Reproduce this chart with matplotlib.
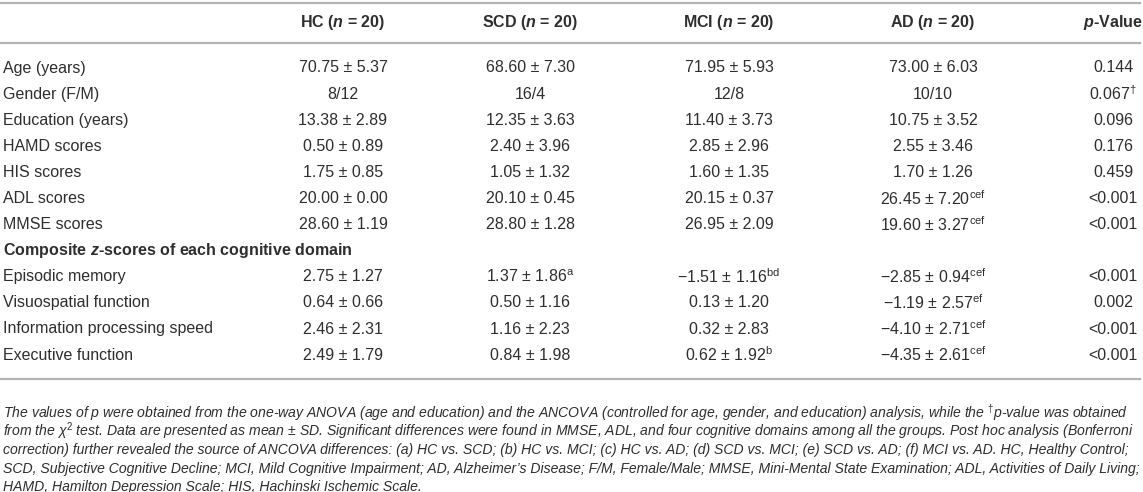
import matplotlib
matplotlib.use("Agg")
import matplotlib.pyplot as plt
from matplotlib.lines import Line2D

# table contents
groups = ["HC", "SCD", "MCI", "AD"]
group_n = [20, 20, 20, 20]

rows = ["Age (years)", "Gender (F/M)", "Education (years)", "HAMD scores",
        "HIS scores", "ADL scores", "MMSE scores"]
domain_title = "Composite $\\mathbfit{z}$-scores of each cognitive domain"
domains = ["Episodic memory", "Visuospatial function",
           "Information processing speed", "Executive function"]

hc = ["70.75 ± 5.37", "8/12", "13.38 ± 2.89", "0.50 ± 0.89", "1.75 ± 0.85",
      "20.00 ± 0.00", "28.60 ± 1.19",
      "2.75 ± 1.27", "0.64 ± 0.66", "2.46 ± 2.31", "2.49 ± 1.79"]
scd = ["68.60 ± 7.30", "16/4", "12.35 ± 3.63", "2.40 ± 3.96", "1.05 ± 1.32",
       "20.10 ± 0.45", "28.80 ± 1.28",
       "1.37 ± 1.86", "0.50 ± 1.16", "1.16 ± 2.23", "0.84 ± 1.98"]
mci = ["71.95 ± 5.93", "12/8", "11.40 ± 3.73", "2.85 ± 2.96", "1.60 ± 1.35",
       "20.15 ± 0.37", "26.95 ± 2.09",
       "−1.51 ± 1.16", "0.13 ± 1.20", "0.32 ± 2.83", "0.62 ± 1.92"]
ad = ["73.00 ± 6.03", "10/10", "10.75 ± 3.52", "2.55 ± 3.46", "1.70 ± 1.26",
      "26.45 ± 7.20", "19.60 ± 3.27",
      "−2.85 ± 0.94", "−1.19 ± 2.57", "−4.10 ± 2.71", "−4.35 ± 2.61"]
pvals = ["0.144", "0.067", "0.096", "0.176", "0.459", "<0.001", "<0.001",
         "<0.001", "0.002", "<0.001", "<0.001"]

# post hoc superscripts
sup_scd = ["", "", "", "", "", "", "", "a", "", "", ""]
sup_mci = ["", "", "", "", "", "", "", "bd", "", "", "b"]
sup_ad = ["", "", "", "", "", "cef", "cef", "cef", "ef", "cef", "cef"]
sup_p = ["", "\\dagger", "", "", "", "", "", "", "", "", ""]

footnote = [
    "The values of p were obtained from the one-way ANOVA (age and education) and the ANCOVA "
    "(controlled for age, gender, and education) analysis, while the $^{\\dagger}$p-value was obtained",
    "from the χ$^2$ test. Data are presented as mean ± SD. Significant differences were found in MMSE, "
    "ADL, and four cognitive domains among all the groups. Post hoc analysis (Bonferroni",
    "correction) further revealed the source of ANCOVA differences: (a) HC vs. SCD; (b) HC vs. MCI; "
    "(c) HC vs. AD; (d) SCD vs. MCI; (e) SCD vs. AD; (f) MCI vs. AD. HC, Healthy Control;",
    "SCD, Subjective Cognitive Decline; MCI, Mild Cognitive Impairment; AD, Alzheimer’s Disease; "
    "F/M, Female/Male; MMSE, Mini-Mental State Examination; ADL, Activities of Daily Living;",
    "HAMD, Hamilton Depression Scale; HIS, Hachinski Ischemic Scale.",
]

plt.rcParams["font.family"] = ["Liberation Sans", "DejaVu Sans"]
plt.rcParams["mathtext.fontset"] = "custom"
plt.rcParams["mathtext.rm"] = "Liberation Sans"
plt.rcParams["mathtext.it"] = "Liberation Sans:italic"
plt.rcParams["mathtext.bf"] = "Liberation Sans:bold"
plt.rcParams["mathtext.bfit"] = "Liberation Sans:italic:bold"

W, H = 1143, 492
fig = plt.figure(figsize=(W / 100, H / 100), dpi=100)
txt_color = "#2e2e2e"
line_color = "#b4b4b4"
fs = 11.5


def put(x, y, s, **kw):
    kw.setdefault("color", txt_color)
    kw.setdefault("fontsize", fs)
    fig.text(x / W, 1 - y / H, s, **kw)


def hline(y):
    fig.add_artist(Line2D([0, 1140 / W], [1 - y / H] * 2, color=line_color, lw=1.6))


col_x = [343, 530, 729, 933, 1113]

hline(3)
hline(43)
hline(379)

# header
for i, g in enumerate(groups):
    put(col_x[i], 23, f"{g} ($\\mathbfit{{n}}$ = {group_n[i]})",
        ha="center", va="center", fontweight="bold")
put(col_x[4], 23, "$\\mathbfit{p}$-Value", ha="center", va="center", fontweight="bold")

labels = rows + [None] + domains
cols = [hc, scd, mci, ad, pvals]
sups = [[""] * len(hc), sup_scd, sup_mci, sup_ad, sup_p]

k = 0
for i, lab in enumerate(labels):
    y = 68 + 26.1 * i
    if lab is None:
        put(3, y, domain_title, ha="left", va="center", fontweight="bold")
        continue
    put(3, y, lab, ha="left", va="center")
    for c in range(5):
        s = cols[c][k]
        if sups[c][k]:
            sup = sups[c][k]
            if not sup.startswith("\\"):
                sup = "\\mathrm{" + sup + "}"
            s = s + "$^{" + sup + "}$"
        put(col_x[c], y, s, ha="center", va="center")
    k += 1

# footnote
for j, line in enumerate(footnote):
    put(3, 413 + 18.5 * j, line, ha="left", va="center", fontsize=10.1, style="italic")

fig.savefig("out.png", dpi=100)
